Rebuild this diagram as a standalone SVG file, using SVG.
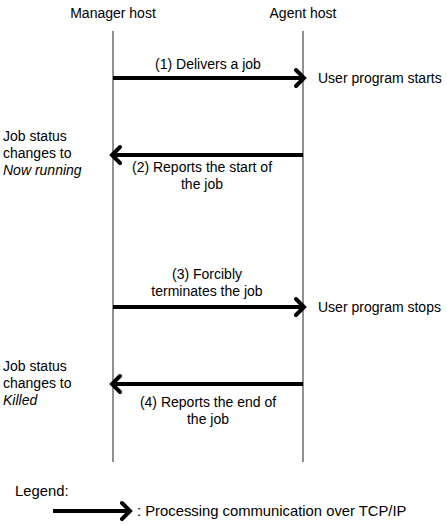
<svg xmlns="http://www.w3.org/2000/svg" width="447" height="525" viewBox="0 0 447 525">
<style>
text{font-family:"Liberation Sans",Arial,sans-serif;font-size:14px;fill:#000}
.c{text-anchor:middle}
.i{font-style:italic}
.lg{font-size:14.8px}
.life{stroke:#555;stroke-width:1.3;fill:none}
.msg{stroke:#000;stroke-width:4;fill:none}
.head{stroke:#000;stroke-width:4;fill:none;stroke-linecap:round;stroke-linejoin:miter}
</style>
<rect width="447" height="525" fill="#fff"/>
<g id="manager">
<text class="c" x="113" y="18">Manager host</text>
<line class="life" x1="113" y1="31" x2="113" y2="462"/>
</g>
<g id="agent">
<text class="c" x="303" y="18">Agent host</text>
<line class="life" x1="303" y1="31" x2="303" y2="462"/>
</g>
<g id="notes">
<text x="318" y="83">User program starts</text>
<text x="3" y="141">Job status</text>
<text x="3" y="158">changes to</text>
<text x="3" y="175" class="i">Now running</text>
<text x="318" y="312">User program stops</text>
<text x="3" y="371">Job status</text>
<text x="3" y="388">changes to</text>
<text x="3" y="405" class="i">Killed</text>
</g>
<g id="connectors">
<line class="msg" x1="113" y1="78" x2="301" y2="78"/>
<polyline class="head" points="296,70 304,78 296,86"/>
<text class="c" x="208" y="69">(1) Delivers a job</text>
<line class="msg" x1="303" y1="155" x2="115" y2="155"/>
<polyline class="head" points="120,147 112,155 120,163"/>
<text class="c" x="202" y="172">(2) Reports the start of</text>
<text class="c" x="202" y="189">the job</text>
<line class="msg" x1="113" y1="307" x2="301" y2="307"/>
<polyline class="head" points="296,299 304,307 296,315"/>
<text class="c" x="207" y="279">(3) Forcibly</text>
<text class="c" x="207" y="296">terminates the job</text>
<line class="msg" x1="303" y1="384" x2="115" y2="384"/>
<polyline class="head" points="120,376 112,384 120,392"/>
<text class="c" x="208" y="407">(4) Reports the end of</text>
<text class="c" x="208" y="424">the job</text>
</g>
<g id="legend">
<text class="lg" x="15" y="496">Legend:</text>
<line class="msg" x1="53" y1="511" x2="127" y2="511"/>
<polyline class="head" points="122,503 130,511 122,519"/>
<text class="lg" x="137" y="516">: Processing communication over TCP/IP</text>
</g>
</svg>
